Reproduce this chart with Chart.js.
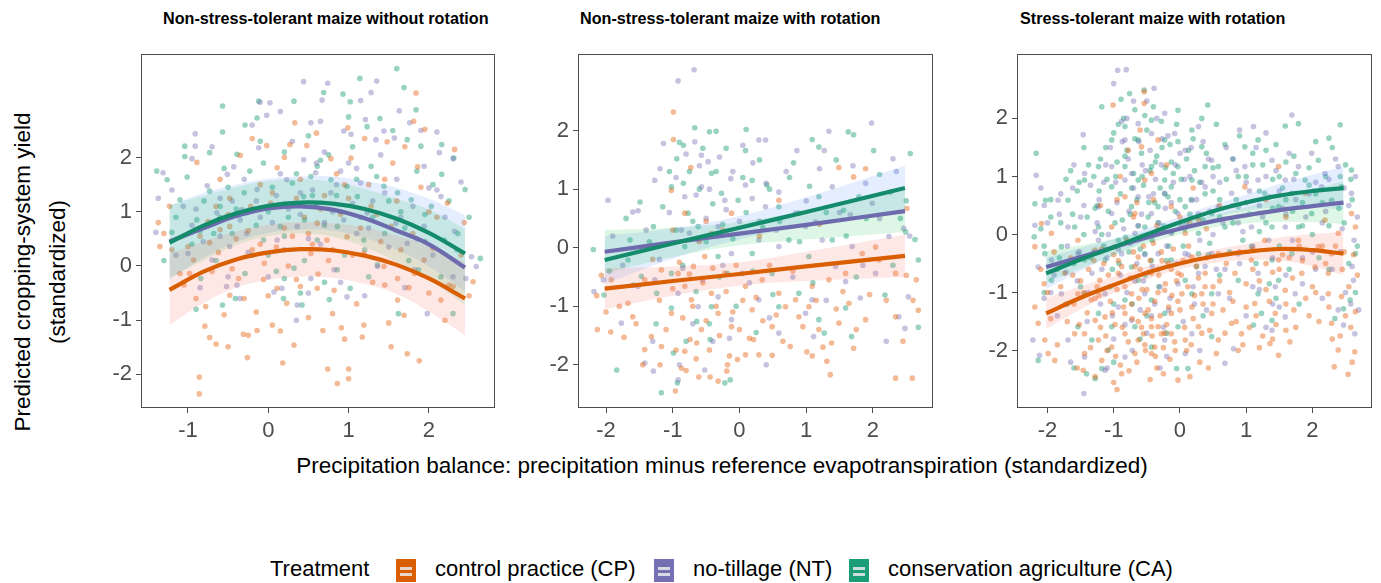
<!DOCTYPE html>
<html>
<head>
<meta charset="utf-8">
<script src="https://cdn.jsdelivr.net/npm/chart.js@4.4.1/dist/chart.umd.min.js"></script>
<style>
  body { margin:0; background:#fff; font-family:"Liberation Sans", Arial, sans-serif; }
  #page { position:relative; width:1381px; height:583px; overflow:hidden; }
  canvas { position:absolute; }
  .ptitle { position:absolute; top:9px; font-size:16.2px; font-weight:bold; color:#000; white-space:nowrap; }
  .ytitle { position:absolute; left:40px; top:272px; transform:translate(-50%,-50%) rotate(-90deg); font-size:22.5px; line-height:35px; text-align:center; white-space:nowrap; color:#000; }
  .xtitle { position:absolute; left:722px; top:453px; transform:translateX(-50%); font-size:22.5px; white-space:nowrap; color:#000; }
  .lg { position:absolute; top:555px; font-size:22px; line-height:28px; color:#000; white-space:nowrap; }
  .key { position:absolute; top:559px; width:20px; height:23px; }
  .key i { position:absolute; left:4px; right:4px; height:3px; background:rgba(235,235,235,0.85); }
</style>
</head>
<body>
<div id="page">
  <div class="ptitle" style="left:163px">Non-stress-tolerant maize without rotation</div>
  <div class="ptitle" style="left:580px">Non-stress-tolerant maize with rotation</div>
  <div class="ptitle" style="left:1020px">Stress-tolerant maize with rotation</div>
  <canvas id="c1" width="408" height="409" style="left:91px;top:39px"></canvas>
  <canvas id="c2" width="409" height="409" style="left:528px;top:39px"></canvas>
  <canvas id="c3" width="409" height="409" style="left:967px;top:39px"></canvas>
  <div class="ytitle">Predicted cropping-system yield<br>(standardized)</div>
  <div class="xtitle">Precipitation balance: precipitation minus reference evapotranspiration (standardized)</div>
  <div class="lg" style="left:270px">Treatment</div>
  <div class="key" style="left:396px;background:#d95f02"><i style="top:8px"></i><i style="top:14px"></i></div>
  <div class="lg" style="left:435px">control practice (CP)</div>
  <div class="key" style="left:654px;background:#7570b3"><i style="top:8px"></i><i style="top:14px"></i></div>
  <div class="lg" style="left:693px">no-tillage (NT)</div>
  <div class="key" style="left:849px;background:#1b9e77"><i style="top:8px"></i><i style="top:14px"></i></div>
  <div class="lg" style="left:888px">conservation agriculture (CA)</div>
</div>
<script>
// treatments: control practice, no-tillage, conservation agriculture
var treatments = ['CP', 'NT', 'CA'];
var lineColors = ['#d95f02', '#6d6aae', '#148c6c'];
var pointColors = ['rgba(230,100,20,0.45)', 'rgba(117,112,179,0.42)', 'rgba(27,158,119,0.45)'];
var bandColors = ['rgba(248,118,109,0.17)', 'rgba(0,186,56,0.13)', 'rgba(97,156,255,0.17)'];

var yTicks = [-2, -1, 0, 1, 2];
var xTicks1 = [-1, 0, 1, 2];
var xTicks23 = [-2, -1, 0, 1, 2];

/******** panel 1 : non-stress-tolerant maize without rotation */
var p1x = [-1.23, -0.8, -0.4, 0, 0.4, 0.8, 1.2, 1.6, 2.0, 2.45];
var p1CP = [-0.44, -0.10, 0.12, 0.25, 0.31, 0.29, 0.19, 0.02, -0.23, -0.60];
var p1NT = [0.45, 0.70, 0.92, 1.06, 1.10, 1.04, 0.88, 0.65, 0.40, -0.03];
var p1CA = [0.43, 0.75, 0.97, 1.11, 1.17, 1.15, 1.05, 0.87, 0.61, 0.23];
var p1CPhi = [0.22, 0.45, 0.64, 0.76, 0.81, 0.79, 0.71, 0.56, 0.36, 0.08];
var p1CPlo = [-1.09, -0.68, -0.40, -0.26, -0.20, -0.22, -0.33, -0.52, -0.84, -1.28];
var p1NThi = [1.12, 1.30, 1.45, 1.57, 1.60, 1.55, 1.42, 1.24, 1.04, 0.68];
var p1NTlo = [-0.22, 0.10, 0.38, 0.55, 0.60, 0.54, 0.35, 0.07, -0.25, -0.72];
var p1CAhi = [1.11, 1.35, 1.50, 1.61, 1.65, 1.65, 1.57, 1.44, 1.24, 0.94];
var p1CAlo = [-0.25, 0.15, 0.44, 0.61, 0.67, 0.65, 0.52, 0.30, -0.01, -0.47];

var p1ptsCP = [[1.84,3.19],[0.33,2.64],[0.99,2.55],[1.81,2.67],[1.95,2.52],[2.32,2.15],[-0.20,2.35],[-0.89,1.91],[-1.37,0.80],[-1.35,0.36],
  [-1.23,1.10],[-0.93,0.11],[-0.78,-0.75],[-0.73,-1.32],[-0.65,-1.44],[-0.5,-1.49],[-0.79,-1.11],[-0.86,-2.05],[-0.86,-2.36],[-0.31,-1.26],
  [-0.25,-1.28],[-0.26,-1.69],[-0.14,-1.19],[0.18,-1.79],[0.32,-1.46],[0.05,-1.09],[0.23,-0.69],[0.4,-0.38],[0.61,-0.41],[0.68,-1.19],
  [0.74,-1.90],[0.86,-2.17],[1.00,-2.08],[1.00,-1.90],[0.91,-1.14],[0.80,-0.88],[1.17,-1.31],[1.19,-1.09],[1.53,-1.49],[1.73,-1.62],
  [1.88,-1.75],[1.69,-0.91],[1.61,-0.63],[1.45,-0.35],[1.61,-0.23],[1.82,-0.14],[1.94,0.11],[2.05,0.33],[2.25,-0.35],[2.55,-0.29],
  [2.44,0.80],[2.23,1.16],[1.86,1.83],[1.48,2.29],[1.03,1.99],[0.78,1.98],[0.48,2.22],[0.27,2.24],[0.11,1.81],[-0.02,2.22],
  [-0.35,2.04],[-0.48,0.73],[-0.6,0.67],[-0.73,0.43],[-0.98,-0.14],[-1.0,0.36],[-1.1,-0.14],[-0.37,-0.23],[-0.48,-0.54],[-0.06,-0.25],
  [0.11,-0.41],[0.53,0.23],[0.73,0.48],[0.98,0.54],[1.19,0.23],[1.44,-0.01],[2.15,-0.63],[2.30,-0.38],[-0.22,1.10],[0.03,1.16],
  [-0.48,1.25],[1.28,1.10],[1.53,0.73],[0.61,0.79],[-0.75,0.82],
  [-1.2,0.3],[-1.05,-0.35],[-0.9,-0.6],[-0.7,-0.1],[-0.62,0.25],[-0.55,-0.9],[-0.45,-0.05],[-0.4,0.5],[-0.3,-0.6],[-0.2,0.3],
  [-0.15,-0.85],[-0.05,0.05],[0.0,-0.55],[0.1,0.35],[0.15,-1.2],[0.25,0.0],[0.3,0.55],[0.35,-0.25],[0.45,0.9],[0.5,-0.95],
  [0.55,0.4],[0.62,-0.15],[0.7,1.3],[0.75,0.1],[0.82,-0.45],[0.9,0.95],[0.95,-1.35],[1.05,0.2],[1.1,-0.7],[1.25,1.5],
  [1.3,-0.3],[1.4,0.45],[1.5,-1.05],[1.55,1.9],[1.65,0.3],[1.75,-0.4],[1.9,1.45],[2.0,-0.5],[2.1,0.9],[2.2,-1.0],
  [2.4,0.2],[2.5,-0.55],[0.2,2.0],[0.6,2.45],[-0.6,1.6],[-0.1,1.5],[0.85,1.7],[1.2,2.35],[1.7,2.2],[-1.3,0.6],
  [-0.85,0.55],[-0.5,0.95],[-0.25,0.65],[0.05,1.35],[0.2,0.7],[0.35,1.25],[0.5,0.6],[0.65,1.05],[0.8,0.3],[1.0,1.25],
  [1.15,0.7],[1.35,0.95],[1.6,1.2],[1.8,0.6],[2.0,1.0],[0.4,1.6],[-0.1,0.4],[0.95,1.5],[1.45,1.6],[-0.65,1.1]];
var p1ptsNT = [[0.44,3.40],[0.74,3.37],[1.35,3.41],[1.28,3.20],[0.67,3.06],[-0.1,3.02],[0.02,3.01],[-0.02,2.78],[-0.91,2.44],[-0.91,2.21],
  [-1.31,1.72],[-1.37,1.25],[-1.4,0.62],[-0.95,1.98],[-0.76,1.48],[-0.51,1.69],[-0.43,1.83],[-0.12,2.18],[0.53,2.64],[0.65,2.67],
  [0.94,2.49],[1.03,2.43],[1.21,2.70],[1.34,2.33],[1.44,2.49],[1.57,2.36],[1.63,2.86],[1.76,2.64],[1.94,1.84],[2.1,2.47],
  [2.13,2.09],[2.30,1.98],[2.0,1.44],[2.15,1.28],[2.32,0.64],[2.53,0.17],[2.59,-0.01],[2.46,-0.23],[1.98,-0.88],[1.82,-0.07],
  [1.36,-0.01],[0.98,-0.57],[0.82,-0.07],[0.53,-0.23],[0.36,-0.72],[0.17,-0.41],[0.07,-0.48],[-0.39,-0.35],[-0.52,-0.38],[-0.7,0.11],
  [-0.81,0.45],[-1.0,0.23],[-1.06,1.10],[-0.64,0.98],[-0.33,1.04],[-0.14,1.41],[0.23,1.59],[0.44,1.96],[0.59,1.72],[0.78,1.35],
  [0.9,1.75],[1.15,1.53],[1.23,0.98],[1.59,0.79],[1.73,0.42],[1.94,0.73],[0.94,0.85],[0.36,0.73],[0.11,0.48],[-0.27,0.60],[-0.48,0.36],
  [-1.15,0.2],[-0.95,0.75],[-0.85,-0.4],[-0.6,0.55],[-0.45,1.2],[-0.35,-0.6],[-0.25,0.25],[-0.1,0.9],[0.0,-0.2],[0.1,1.3],
  [0.2,0.3],[0.3,2.3],[0.4,0.95],[0.5,-0.5],[0.55,1.4],[0.65,0.4],[0.7,2.1],[0.8,1.0],[0.9,-0.3],[1.0,1.9],
  [1.1,0.6],[1.2,-0.55],[1.3,1.2],[1.4,2.05],[1.5,0.35],[1.6,1.6],[1.7,-0.4],[1.8,1.1],[1.9,2.5],[2.05,0.2],
  [2.2,0.9],[2.3,-0.2],[2.4,1.55],[-0.7,2.2],[-0.2,2.6],[0.15,2.85],[1.15,3.05],[-1.2,1.4],[-0.5,-0.2],[0.35,-1.0],
  [-0.9,1.05],[-0.6,1.25],[-0.35,0.85],[-0.15,1.2],[0.05,0.8],[0.25,1.05],[0.4,1.35],[0.5,0.5],[0.7,0.8],[0.85,1.5],
  [1.05,1.15],[1.25,0.7],[1.45,1.35],[1.65,0.9],[1.85,0.5],[0.15,1.7],[0.6,1.9],[-0.3,1.6],[1.1,1.8],[2.1,1.4]];
var p1ptsCA = [[1.60,3.64],[1.14,3.46],[1.69,3.29],[0.69,3.20],[0.32,3.04],[-0.12,3.04],[-0.57,2.95],[-0.57,2.47],[-1.04,2.21],[-1.04,2.02],
  [-0.73,2.09],[-0.29,2.60],[-0.14,2.73],[0.93,3.17],[1.02,3.03],[1.23,2.57],[1.39,2.72],[1.84,2.88],[1.73,2.33],[1.9,2.21],
  [2.16,2.24],[2.31,1.99],[2.16,1.69],[2.45,1.41],[2.64,0.14],[2.30,-0.88],[1.87,-0.07],[1.62,-0.88],[1.36,0.02],[1.02,-0.41],
  [0.86,-0.07],[0.76,-0.62],[0.42,-0.72],[0.19,-0.60],[0.2,-0.23],[0.32,-0.04],[-0.29,-0.14],[-0.41,-0.60],[-0.57,-0.72],[-0.84,-0.23],
  [-1.2,0.62],[-1.39,1.75],[-1.26,1.59],[-1.01,1.64],[-0.73,1.38],[-0.6,1.10],[-0.39,2.06],[-0.23,1.75],[-0.06,1.90],[0.30,1.53],
  [0.44,1.28],[0.53,1.65],[0.61,1.84],[0.78,1.59],[0.98,1.47],[1.11,1.28],[1.28,1.84],[1.44,1.47],[1.61,1.35],[1.78,1.22],
  [2.03,1.10],[2.19,0.48],[2.36,0.60],[0.15,0.73],[-0.06,0.48],[0.61,0.48],[0.86,0.73],[1.19,0.48],[-0.27,0.98],[-0.68,0.60],
  [-0.89,0.85],[-1.1,1.22],
  [-1.15,0.9],[-0.95,0.4],[-0.8,1.2],[-0.65,0.1],[-0.55,1.8],[-0.45,0.6],[-0.3,1.35],[-0.2,0.2],[-0.1,2.3],[0.0,1.0],
  [0.1,-0.1],[0.2,2.1],[0.25,0.9],[0.35,1.7],[0.45,0.1],[0.5,2.4],[0.6,1.1],[0.7,-0.3],[0.75,2.05],[0.85,1.3],
  [0.95,0.2],[1.05,2.2],[1.15,0.9],[1.25,-0.2],[1.35,1.65],[1.45,0.6],[1.55,2.5],[1.65,1.0],[1.75,0.1],[1.85,1.75],
  [1.95,0.45],[2.05,1.5],[2.15,-0.2],[2.25,1.2],[2.35,0.3],[2.5,0.9],[-1.3,0.1],[-0.9,-0.8],[0.4,-0.5],[1.0,2.75],
  [-0.85,0.65],[-0.6,0.9],[-0.4,1.05],[-0.15,0.75],[0.05,1.45],[0.2,0.55],[0.3,1.15],[0.45,0.85],[0.55,1.3],[0.7,0.75],
  [0.9,1.0],[1.1,1.6],[1.3,0.9],[1.5,1.2],[1.7,0.7],[1.95,0.95],[0.0,0.2],[0.65,1.95],[-0.5,1.45],[1.2,0.3]];

/******** panel 2 : non-stress-tolerant maize with rotation */
var p2x = [-2.02, -1, 0, 1, 2.48];
var p2CP = [-0.70, -0.57, -0.45, -0.32, -0.14];
var p2NT = [-0.07, 0.09, 0.24, 0.39, 0.625];
var p2CA = [-0.21, 0.07, 0.34, 0.61, 1.02];
var p2CPhi = [-0.35, -0.32, -0.25, -0.07, 0.22];
var p2CPlo = [-1.05, -0.82, -0.65, -0.57, -0.50];
var p2NThi = [0.30, 0.34, 0.44, 0.64, 0.98];
var p2NTlo = [-0.44, -0.16, 0.04, 0.14, 0.27];
var p2CAhi = [0.20, 0.33, 0.54, 0.86, 1.40];
var p2CAlo = [-0.62, -0.19, 0.14, 0.36, 0.65];

var p2ptsCP = [[-0.99,2.32],[-0.99,1.85],[-0.73,1.37],[-1.02,0.98],[-2.14,-0.82],[-2.13,-1.40],[-1.93,-1.44],[-1.73,-1.53],[-1.6,-1.18],[-1.42,-1.74],
  [-1.32,-1.52],[-1.17,-1.69],[-1.19,-2.0],[-0.96,-2.45],[-0.87,-2.06],[-0.82,-1.77],[-0.74,-1.57],[-0.61,-2.21],[-0.64,-1.63],[-0.57,-1.40],
  [-0.44,-2.21],[-0.32,-2.28],[-0.18,-2.0],[-0.19,-2.11],[-0.03,-1.91],[0.09,-1.83],[0.21,-1.57],[0.29,-1.83],[0.49,-1.84],[0.76,-1.69],
  [0.89,-1.18],[1.04,-1.01],[1.01,-1.78],[1.09,-1.85],[1.31,-1.94],[1.36,-2.17],[1.38,-1.63],[1.49,-1.29],[1.64,-0.95],[1.71,-1.72],
  [2.34,-2.23],[2.59,-2.23],[2.68,-1.07],[2.65,-0.55],[2.5,-0.47],[2.04,0.01],[2.51,0.67],[1.89,1.35],[1.49,1.37],[1.71,1.21],
  [0.59,0.81],[-0.52,-0.15],[-0.69,-0.32],[-0.92,-0.44],[-1.17,-0.38],[-1.42,-0.55],[-1.67,-0.95],[-1.92,-0.55],[-2.07,-0.47],[-0.82,-0.66],
  [-0.42,-0.78],[-0.22,-0.44],[0.09,-0.66],[0.34,-0.55],[0.59,-0.78],[0.84,-0.89],[1.09,-0.66],[1.34,-0.55],[1.59,-0.44],[1.84,-0.10],
  [2.09,-0.21],[2.34,-0.44],[-0.32,-1.12],[-0.12,-1.35],[-1.02,-1.12],[-0.72,-0.89],[0.19,-1.06],[0.49,-1.35],[0.69,-1.01],[1.19,-1.40],
  [1.89,-1.23],[2.34,-1.18],[-0.82,0.59],[-0.42,0.24],[-0.12,0.59],
  [-1.3,-0.2],[-1.2,-0.9],[-1.1,-1.4],[-1.0,-0.7],[-0.95,-1.75],[-0.9,-0.25],[-0.85,-1.2],[-0.8,-2.1],[-0.75,-0.45],[-0.7,-1.0],
  [-0.65,-1.9],[-0.6,0.1],[-0.55,-0.6],[-0.5,-1.25],[-0.45,-1.75],[-0.4,-0.35],[-0.35,-1.0],[-0.3,-1.5],[-0.25,0.3],[-0.2,-0.75],
  [-0.15,-1.85],[-0.1,-1.1],[-0.05,-0.3],[0.0,-1.4],[0.05,-0.9],[0.15,-1.55],[0.25,-0.85],[0.35,-1.25],[0.45,-0.3],[0.55,-1.15],
  [0.65,-1.6],[0.8,-0.4],[0.95,-1.35],[1.15,-0.9],[1.25,-1.7],[1.45,-1.05],[1.55,-0.75],[1.75,-1.4],[1.95,-0.8],[2.2,-0.9],
  [2.45,-1.6],[-1.55,-1.3],[-1.8,-1.0],[-2.0,-1.1],[-1.45,-2.0],[-1.0,0.3],[-0.5,0.45],[0.3,0.2],[1.2,0.4],[2.6,-0.9]];
var p2ptsNT = [[-0.68,3.04],[-0.92,2.85],[1.98,2.13],[0.29,1.84],[0.39,1.84],[1.34,1.99],[1.27,1.66],[0.86,1.66],[2.30,1.52],[1.89,1.10],
  [-1.97,0.81],[-1.6,0.61],[-1.52,0.63],[-1.27,1.15],[-1.19,1.35],[-1.14,1.78],[-0.67,1.81],[-0.57,1.58],[-0.47,1.47],[-0.13,1.18],
  [0.09,1.07],[0.19,0.84],[0.39,0.70],[0.59,0.95],[0.84,0.59],[1.14,0.44],[1.39,1.04],[1.66,0.56],[1.99,0.76],[2.24,0.19],
  [2.46,0.33],[2.53,-0.84],[2.48,-1.38],[2.39,-1.18],[1.81,-0.86],[1.59,-0.58],[1.44,-0.32],[1.09,-0.89],[0.99,-1.12],[1.11,-1.52],
  [0.59,-1.46],[0.29,-0.89],[0.04,-0.44],[-0.12,-1.23],[-0.32,-0.84],[-0.62,-1.01],[-0.92,-0.78],[-1.27,-0.55],[-1.52,-0.66],[-1.77,-1.29],
  [-1.42,-1.97],[-1.29,-2.11],[-0.92,-2.26],[-0.52,-2.09],[-2.18,-0.75],[-2.04,-0.55],[-0.87,0.30],[-0.62,0.13],[-0.32,0.36],[-0.12,-0.10],
  [0.29,0.13],[0.59,0.02],[0.99,0.36],[1.24,0.13],[1.69,0.02],[2.04,-0.44],[-0.57,1.04],[-0.22,0.81],[-0.82,0.87],
  [-1.4,0.3],[-1.2,-0.2],[-1.05,0.6],[-0.95,1.2],[-0.85,-0.35],[-0.8,1.6],[-0.75,0.25],[-0.7,-1.3],[-0.65,0.9],[-0.6,1.4],
  [-0.55,-0.55],[-0.5,0.5],[-0.45,1.0],[-0.4,-1.6],[-0.35,0.2],[-0.3,1.55],[-0.25,-0.3],[-0.2,0.65],[-0.15,-1.55],[-0.1,1.3],
  [0.0,0.45],[0.05,1.75],[0.15,-0.6],[0.2,1.45],[0.3,0.45],[0.4,1.1],[0.45,-1.2],[0.55,0.3],[0.7,1.3],[0.8,-0.5],
  [1.0,0.8],[1.2,1.35],[1.3,-0.9],[1.5,0.6],[1.7,1.4],[1.85,-0.3],[2.1,0.5],[2.35,1.3],[2.55,0.2],[-1.75,-0.3],
  [-1.9,0.2],[-1.3,-1.6],[-0.9,-2.0],[0.4,-2.0],[2.2,-1.6]];
var p2ptsCA = [[-0.67,2.05],[-0.45,1.98],[-0.35,1.99],[0.10,2.02],[1.09,1.85],[1.63,1.98],[1.71,1.93],[2.01,1.66],[2.56,1.61],[1.19,1.72],
  [0.81,1.45],[0.09,1.66],[-0.84,1.75],[-0.94,1.52],[-1.02,1.04],[-0.84,1.10],[-0.42,1.27],[-0.27,0.93],[-0.02,0.81],[0.19,1.15],
  [0.41,1.07],[0.59,0.70],[0.89,0.59],[1.19,0.87],[1.56,0.64],[1.79,0.87],[2.26,0.95],[2.41,0.50],[-1.49,0.78],[-1.29,0.36],
  [-1.64,0.13],[-2.19,-0.03],[-2.03,-0.81],[-1.67,-0.21],[-1.47,-0.49],[-1.24,-0.78],[-1.02,-1.03],[-0.99,-1.80],[-1.17,-2.48],[-0.93,-2.31],
  [-1.84,-2.09],[-1.59,-0.64],[-0.64,-1.26],[-0.44,-1.57],[-0.22,-2.31],[-0.14,-2.26],[-0.42,-1.01],[-0.18,-0.44],[0.19,-0.10],[0.49,-0.44],
  [0.59,-1.01],[0.89,-0.78],[1.19,-1.23],[1.27,-1.46],[1.59,-1.03],[1.68,-1.52],[2.18,-0.81],[2.68,-1.36],[2.68,-0.21],[2.63,0.14],
  [2.49,0.27],[1.39,0.13],[1.04,-0.15],[0.74,0.13],[-0.62,0.36],[-0.82,0.02],[-1.02,-0.44],[-0.32,-0.15],[-0.77,0.59],
  [-1.35,0.1],[-1.15,0.7],[-1.05,1.3],[-0.95,0.3],[-0.9,1.8],[-0.85,-0.3],[-0.75,1.3],[-0.7,0.45],[-0.65,-0.75],[-0.6,1.0],
  [-0.55,1.7],[-0.5,0.1],[-0.45,-1.3],[-0.4,0.75],[-0.35,1.3],[-0.3,-0.5],[-0.25,0.4],[-0.2,1.7],[-0.1,0.15],[-0.05,-1.0],
  [0.05,1.2],[0.1,0.6],[0.2,-0.4],[0.3,1.5],[0.35,0.35],[0.45,1.0],[0.5,-0.8],[0.6,0.45],[0.75,1.2],[0.9,0.1],
  [1.05,1.05],[1.1,-0.6],[1.3,0.6],[1.45,1.5],[1.6,0.2],[1.75,-0.5],[1.9,0.5],[2.1,1.25],[2.3,-0.3],[2.5,0.8],
  [-1.7,0.5],[-1.95,-0.4],[-1.25,-1.3],[-0.8,-1.6],[0.25,-1.45]];

/******** panel 3 : stress-tolerant maize with rotation */
var p3x = [-2.02, -1.5, -1, -0.5, 0, 0.5, 1, 1.5, 2, 2.47];
var p3CP = [-1.36, -1.09, -0.87, -0.66, -0.50, -0.38, -0.30, -0.25, -0.27, -0.33];
var p3NT = [-0.56, -0.39, -0.22, -0.05, 0.10, 0.23, 0.33, 0.42, 0.49, 0.55];
var p3CA = [-0.67, -0.43, -0.22, 0.00, 0.21, 0.40, 0.55, 0.67, 0.75, 0.80];
var p3CPhi = [-1.09, -0.89, -0.73, -0.55, -0.40, -0.27, -0.16, -0.05, 0.01, 0.04];
var p3CPlo = [-1.63, -1.29, -1.01, -0.77, -0.60, -0.49, -0.44, -0.45, -0.55, -0.70];
var p3NThi = [-0.29, -0.19, -0.08, 0.06, 0.20, 0.34, 0.47, 0.62, 0.77, 0.92];
var p3NTlo = [-0.83, -0.59, -0.36, -0.16, 0.00, 0.12, 0.19, 0.22, 0.21, 0.18];
var p3CAhi = [-0.40, -0.23, -0.08, 0.11, 0.31, 0.51, 0.69, 0.87, 1.03, 1.17];
var p3CAlo = [-0.94, -0.63, -0.36, -0.11, 0.11, 0.29, 0.41, 0.47, 0.47, 0.43];

var p3ptsCP = [[-1.01,2.23],[-0.54,2.46],[-0.54,2.26],[2.33,-2.28],[2.54,-2.41],[2.64,-2.02],[2.39,-1.99],[2.65,-1.33],[2.65,0.13],[2.59,0.36],
  [-2.19,-1.25],[-2.14,-1.53],[-1.89,-2.17],[-1.99,-2.05],[-2.04,-1.82],[-1.46,-2.34],[-1.28,-2.45],[-0.95,-2.67],[-0.88,-2.40],[-0.03,-2.51],
  [-0.25,-2.40],[-0.43,-2.05],[-0.63,-1.82],[-0.55,-1.71],[-0.33,-1.59],[-0.13,-1.71],[0.08,-1.82],[0.28,-1.59],[0.18,-1.25],[0.58,-1.82],
  [0.78,-1.53],[0.93,-1.71],[1.13,-1.19],[1.36,-1.88],[1.49,-2.08],[1.66,-1.85],[1.44,-1.36],[1.59,-0.96],[1.84,-0.67],[2.04,-0.56],
  [2.29,-0.33],[2.24,-0.67],[2.24,-1.02],[2.44,-1.07],[2.29,-1.53],[-1.74,-0.67],[-1.54,-1.02],[-1.34,-1.13],[-1.21,-0.79],[-1.13,-1.42],
  [-1.44,-1.71],[-1.23,-1.82],[-0.83,-1.36],[-0.73,-1.02],[-0.93,-0.67],[-0.63,-0.39],[-0.43,-0.67],[-0.23,-0.96],[-0.03,-0.67],[0.18,-0.39],
  [0.38,-0.67],[0.58,-0.33],[0.83,-0.67],[1.08,-0.44],[1.28,-0.10],[1.49,-0.44],[1.79,-0.10],[2.09,-0.21],[2.39,0.02],[-1.03,0.13],
  [-0.83,0.65],[-0.68,0.36],[-0.53,0.94],[-0.33,0.07],[-0.13,0.48],[0.08,0.02],[0.28,0.25],[-0.78,1.45],[-0.58,1.51],[-0.43,1.05],
  [-0.33,1.63],[1.49,1.17],[0.98,0.82],[1.89,0.71],[2.19,0.25],[-2.09,0.19],[-1.94,0.02],[-2.19,-0.21],[-1.54,-0.10],[-1.28,-0.27],
  [-0.98,-0.21],[-0.53,-1.36],[-0.43,-1.59],[-0.28,-1.71],[-0.38,-1.94],[-0.68,-2.05],[-0.83,-1.71],[-1.03,-1.94],[-1.18,-2.17],[-1.44,-2.05],
  [-1.59,-1.71],[-1.28,-1.48],[-0.13,-1.36],[0.03,-1.02],[0.33,-1.02],[0.48,-1.36],
  [-1.25,-0.9],[-1.2,-1.6],[-1.15,-0.5],[-1.1,-2.0],[-1.05,-1.15],[-1.0,-0.35],[-0.98,-1.55],[-0.95,-0.95],[-0.9,-2.25],[-0.88,-0.55],
  [-0.85,-1.25],[-0.8,-0.1],[-0.78,-1.85],[-0.75,-0.75],[-0.72,-1.45],[-0.7,-0.3],[-0.65,-2.2],[-0.62,-1.1],[-0.6,-0.6],[-0.58,-1.6],
  [-0.55,-0.2],[-0.52,-2.0],[-0.5,-0.95],[-0.48,-1.3],[-0.45,-0.45],[-0.42,-1.75],[-0.4,-0.15],[-0.38,-1.15],[-0.35,-2.3],[-0.32,-0.7],
  [-0.3,-1.4],[-0.28,-0.3],[-0.25,-1.95],[-0.22,-0.85],[-0.2,-1.55],[-0.18,-0.5],[-0.15,-2.15],[-0.12,-1.05],[-0.1,-0.25],[-0.08,-1.85],
  [-0.05,-0.8],[0.0,-1.3],[0.05,-0.45],[0.1,-2.0],[0.12,-0.9],[0.2,-1.45],[0.25,-0.55],[0.3,-2.2],[0.35,-1.2],[0.4,-0.4],
  [0.45,-1.65],[0.5,-0.9],[0.55,-2.05],[0.65,-1.3],[0.7,-0.5],[0.75,-1.0],[0.85,-1.5],[0.9,-0.3],[0.95,-1.9],[1.0,-0.85],
  [1.05,-1.6],[1.1,-0.25],[1.15,-1.4],[1.2,-0.8],[1.25,-1.75],[1.3,-0.5],[1.35,-1.15],[1.4,-0.65],[1.45,-1.55],[1.55,-0.35],
  [1.6,-1.2],[1.7,-0.75],[1.75,-1.6],[1.8,-0.2],[1.9,-1.1],[2.0,-0.9],[2.1,-1.5],[2.2,-0.5],[2.3,-1.8],[2.35,-0.2],
  [2.45,-0.6],[2.5,-1.4],[2.55,-0.9],[2.6,-2.2],[2.62,-0.35],[-1.3,-0.45],[-1.35,-1.95],[-1.4,-1.35],[-1.5,-0.8],[-1.55,-2.3],
  [-1.6,-1.2],[-1.65,-0.4],[-1.7,-1.5],[-1.8,-0.9],[-1.85,-1.9],[-1.9,-0.3],[-2.0,-1.0],[-2.1,-0.6],[-1.2,0.5],[-0.9,1.0],
  [-0.7,0.3],[-0.6,1.8],[-0.4,0.6],[-0.2,1.2],[0.0,0.3],[0.2,0.8],[0.4,0.1],[0.6,0.5],[1.3,0.6],[1.6,0.3],
  [-1.0,-2.55],[-0.45,-2.5],[0.15,-2.45],
  [-1.22,-1.05],[-1.18,-0.25],[-1.12,-1.75],[-1.08,-0.7],[-1.02,-1.35],[-0.97,-2.1],[-0.93,-0.45],[-0.87,-1.6],[-0.83,-0.9],[-0.77,-2.35],
  [-0.73,-1.2],[-0.68,-0.55],[-0.63,-1.5],[-0.57,-0.95],[-0.53,-1.9],[-0.47,-0.65],[-0.43,-1.45],[-0.37,-2.1],[-0.33,-1.0],[-0.27,-0.45],
  [-0.23,-1.7],[-0.17,-1.25],[-0.13,-0.6],[-0.07,-2.0],[-0.03,-1.15],[0.02,-0.7],[0.07,-1.6],[0.13,-0.2],[0.17,-1.9],[0.22,-1.05],
  [0.28,-0.75],[0.33,-1.7],[0.38,-0.9],[0.43,-2.3],[0.5,-1.2],[0.6,-0.8],[0.68,-1.7],[0.8,-1.15],[0.88,-2.0],[1.0,-1.25],
  [1.1,-0.6],[1.2,-1.95],[1.3,-0.95],[1.4,-1.8],[1.5,-0.6],[1.6,-1.65],[1.65,-0.4],[1.72,-1.3],[1.85,-0.45],[1.95,-1.4],
  [2.05,-1.0],[2.15,-0.2],[2.25,-1.25],[2.42,-1.75],[2.48,-0.3],[2.58,-1.6],[2.68,-0.7],[-1.28,-1.1],[-1.38,-0.6],[-1.45,-1.0],
  [-1.52,-1.55],[-1.62,-0.7],[-1.72,-1.2],[-1.82,-0.55],[-1.95,-1.45],[-2.05,-0.85],[-0.65,0.55],[-0.35,0.15],[-0.95,0.6],[0.15,0.2]];
var p3ptsNT = [[-0.94,2.83],[-0.81,2.84],[-0.39,2.52],[-1.46,1.72],[-2.17,1.02],[-2.19,0.16],[-2.14,-0.56],[-2.22,-1.82],[-2.12,-2.08],[-1.45,-2.74],
  [1.69,2.06],[1.11,1.86],[2.14,0.82],[2.59,0.71],[2.63,-0.10],[2.62,-0.79],[2.64,-1.71],[2.47,-1.56],[2.39,-1.30],[0.68,-2.22],
  [0.81,-1.97],[1.39,-1.65],[1.59,-1.42],[1.74,-1.02],[-1.44,1.05],[-1.23,0.48],[-1.03,1.17],[-0.83,1.63],[-0.63,1.91],[-0.43,1.74],
  [-0.23,2.09],[-0.08,1.74],[0.08,1.45],[0.28,1.86],[0.48,1.28],[-0.83,0.94],[-0.63,0.65],[-0.43,0.36],[-0.23,0.71],[-0.03,0.36],
  [0.18,0.59],[0.38,0.82],[0.58,0.48],[0.78,0.71],[0.98,1.17],[1.18,0.94],[1.39,1.28],[1.59,0.94],[1.79,1.17],[1.99,1.40],
  [2.19,1.05],[2.39,1.17],[1.08,0.13],[1.34,-0.10],[1.59,0.13],[0.88,-0.33],[1.18,-0.67],[1.44,-0.90],[-1.69,0.13],[-1.54,-0.33],
  [-1.33,-0.67],[-1.13,-1.02],[-0.93,-1.25],[-0.73,-1.48],[-0.53,-1.02],[-0.33,-0.33],[-0.13,0.02],[0.08,-0.33],[0.28,-0.67],[0.48,-0.33],
  [0.58,-1.02],[-1.69,-1.82],[-1.44,-2.11],[-1.13,-2.34],[-0.83,-2.11],[0.08,-2.05],[0.18,-1.71],[-0.23,-1.82],[-1.79,-1.02],[-1.94,-0.44],
  [-1.84,0.59],[-1.23,-0.10],[-1.03,0.36],[-0.88,-0.33],[-0.68,0.02],
  [-1.25,0.2],[-1.2,-1.2],[-1.15,0.9],[-1.1,-0.4],[-1.05,1.5],[-1.0,-1.8],[-0.95,0.55],[-0.9,-0.7],[-0.88,1.95],[-0.85,0.1],
  [-0.8,-1.0],[-0.78,1.3],[-0.75,-0.15],[-0.72,-2.0],[-0.7,0.8],[-0.65,-0.5],[-0.62,1.6],[-0.6,-1.3],[-0.58,0.35],[-0.55,-0.8],
  [-0.52,1.1],[-0.5,-1.7],[-0.48,0.0],[-0.45,1.45],[-0.42,-0.55],[-0.4,0.7],[-0.38,-1.2],[-0.35,2.0],[-0.32,0.2],[-0.3,-0.9],
  [-0.28,1.2],[-0.25,-1.6],[-0.22,0.45],[-0.2,-0.2],[-0.18,1.7],[-0.15,-1.1],[-0.1,0.9],[-0.05,-0.5],[0.0,1.4],[0.05,-1.5],
  [0.1,0.2],[0.15,1.0],[0.2,-0.9],[0.25,0.6],[0.3,-0.1],[0.35,1.6],[0.4,-1.3],[0.45,0.4],[0.5,1.0],[0.55,-0.6],
  [0.65,0.2],[0.7,1.5],[0.75,-1.1],[0.8,0.5],[0.85,1.1],[0.9,-0.5],[0.95,0.05],[1.0,-1.4],[1.05,0.75],[1.1,-0.2],
  [1.15,1.5],[1.2,-0.95],[1.25,0.3],[1.3,-1.6],[1.35,0.65],[1.4,-0.4],[1.45,1.1],[1.5,-1.25],[1.55,0.45],[1.6,-0.7],
  [1.65,1.4],[1.7,-0.1],[1.75,0.6],[1.85,-0.85],[1.9,0.3],[2.0,-0.3],[2.05,0.9],[2.15,-1.1],[2.2,0.4],[2.3,-0.6],
  [2.35,1.3],[2.45,0.1],[2.5,-1.0],[2.55,0.5],[2.6,-0.55],[2.65,1.0],[2.7,-1.3],[-1.3,-0.3],[-1.35,0.85],[-1.4,-1.5],
  [-1.5,0.3],[-1.55,-0.8],[-1.6,1.2],[-1.65,-2.2],[-1.7,-0.2],[-1.8,0.7],[-1.85,-1.4],[-1.9,-0.7],[-2.0,0.2],[-2.05,-1.1],
  [-2.1,0.8],[-1.0,2.6],[-0.7,2.3],[-0.3,-2.3],[0.3,-2.0],[0.9,1.8],[1.3,1.75],
  [-1.22,0.6],[-1.18,-0.6],[-1.12,1.2],[-1.08,0.0],[-1.02,-1.4],[-0.97,0.9],[-0.93,-0.25],[-0.87,1.6],[-0.83,-1.55],[-0.77,0.4],
  [-0.73,1.05],[-0.68,-0.8],[-0.63,0.15],[-0.57,1.2],[-0.53,-0.35],[-0.47,0.65],[-0.43,-1.4],[-0.37,0.95],[-0.33,-0.6],[-0.27,1.65],
  [-0.23,0.05],[-0.17,-1.3],[-0.13,0.55],[-0.07,1.2],[-0.03,-0.85],[0.02,0.15],[0.07,0.95],[0.13,-0.35],[0.17,1.5],[0.22,-1.2],
  [0.28,0.35],[0.33,0.9],[0.38,-0.55],[0.43,1.3],[0.5,0.0],[0.6,0.9],[0.68,-0.6],[0.8,1.3],[0.88,0.2],[1.0,0.9],
  [1.1,-0.9],[1.2,0.5],[1.3,1.0],[1.4,-1.2],[1.5,0.75],[1.6,0.35],[1.72,0.95],[1.85,-0.4],[1.95,0.7],[2.05,-0.6],
  [2.15,0.2],[2.25,0.95],[2.42,-0.3],[2.48,0.8],[2.58,-1.2],[2.68,0.3],[-1.28,0.05],[-1.38,-1.0],[-1.45,0.5],[-1.52,-0.3],
  [-1.62,0.8],[-1.72,-0.65],[-1.82,0.35],[-1.95,-1.0],[-2.05,0.5],[-0.8,2.0],[-0.5,2.3],[-0.2,-2.1],[-1.1,-2.3]];
var p3ptsCA = [[-0.54,2.49],[-0.89,2.33],[-1.18,2.20],[-0.76,2.43],[0.42,2.23],[1.79,1.91],[1.59,1.87],[2.42,1.89],[2.25,1.66],[-2.17,1.40],
  [-2.03,0.59],[-2.19,0.53],[-2.2,-0.04],[-2.14,-2.17],[-1.28,-2.48],[-1.41,-2.40],[-1.18,-2.31],[-0.05,-2.31],[0.12,-2.31],[2.34,-1.45],
  [2.47,-1.28],[2.57,-1.13],[2.65,-0.33],[2.59,1.11],[1.39,-1.48],[1.23,-1.36],[1.11,-1.56],[0.48,-1.76],[-1.44,0.94],[-1.23,1.17],
  [-1.03,1.63],[-0.83,1.86],[-0.63,1.63],[-0.43,1.97],[-0.23,1.63],[-0.03,2.14],[0.18,1.80],[0.33,1.51],[0.58,1.17],[-1.03,0.82],
  [-0.83,1.17],[-0.63,0.94],[-0.43,1.17],[-0.23,0.94],[-0.03,1.17],[0.18,0.94],[0.38,1.17],[-0.73,0.48],[-0.53,0.13],[-0.33,0.48],
  [-0.13,0.82],[0.08,0.48],[0.28,0.02],[0.48,0.36],[0.68,0.13],[0.88,0.48],[0.98,1.51],[1.18,1.63],[1.28,0.71],[1.49,0.48],
  [1.69,0.71],[1.89,0.94],[2.09,1.28],[2.29,0.59],[2.44,0.82],[1.99,0.36],[1.79,0.13],[1.39,0.13],[1.08,-0.21],[1.39,-0.44],
  [1.69,-0.33],[0.88,-0.79],[1.18,-1.02],[1.49,-0.79],[-1.69,0.59],[-1.59,0.13],[-1.79,-0.21],[-1.44,-0.44],[-1.23,0.13],[-1.13,-0.44],
  [-0.93,-0.10],[-0.73,-0.56],[-0.53,-0.33],[-0.13,-0.44],[0.08,-0.79],[0.28,-0.33],[0.48,-1.02],[0.18,-1.02],[-1.44,-1.02],[-1.23,-1.36],
  [-1.03,-1.59],[-0.83,-1.13],[-0.63,-0.79],[-0.43,-1.13],[-0.23,-1.36],[-0.03,-1.59],[-1.54,-1.59],[-1.33,-1.82],[-1.08,-1.99],[-0.68,-1.59],
  [-0.43,-1.94],[-1.94,-0.79],[-2.04,-0.33],
  [-1.25,0.5],[-1.2,1.3],[-1.15,-0.2],[-1.1,0.95],[-1.05,-0.9],[-1.0,1.75],[-0.98,0.2],[-0.95,1.25],[-0.92,-0.5],[-0.9,0.7],
  [-0.85,2.0],[-0.82,-0.05],[-0.8,1.45],[-0.75,0.35],[-0.72,-1.2],[-0.7,1.05],[-0.68,2.15],[-0.65,0.6],[-0.6,-0.25],[-0.58,1.4],
  [-0.55,0.85],[-0.52,-0.7],[-0.5,1.8],[-0.48,0.3],[-0.45,1.1],[-0.42,-0.1],[-0.4,2.2],[-0.38,0.55],[-0.35,1.35],[-0.32,-0.9],
  [-0.3,0.8],[-0.28,1.95],[-0.25,0.15],[-0.22,1.15],[-0.2,-0.45],[-0.18,0.65],[-0.15,1.55],[-0.12,0.05],[-0.1,1.05],[-0.05,1.9],
  [0.0,0.6],[0.05,-0.2],[0.1,1.3],[0.15,0.35],[0.2,1.65],[0.25,-0.55],[0.3,0.9],[0.35,0.25],[0.4,1.4],[0.45,-0.15],
  [0.5,0.75],[0.55,1.9],[0.6,0.3],[0.7,0.95],[0.75,-0.3],[0.8,1.3],[0.85,0.6],[0.9,1.7],[0.95,-0.1],[1.0,1.0],
  [1.05,0.35],[1.1,1.4],[1.15,-0.5],[1.2,0.75],[1.25,1.2],[1.3,0.2],[1.35,-0.85],[1.4,0.95],[1.45,1.55],[1.5,-0.2],
  [1.55,0.8],[1.6,1.25],[1.65,-0.6],[1.7,0.4],[1.75,1.05],[1.8,-1.2],[1.85,0.55],[1.95,1.15],[2.0,0.0],[2.05,0.7],
  [2.1,-0.4],[2.2,1.0],[2.25,0.15],[2.3,1.5],[2.4,0.45],[2.5,1.2],[2.55,-0.5],[2.6,0.6],[2.65,-1.0],[-1.3,1.0],
  [-1.35,-0.4],[-1.4,0.3],[-1.45,1.5],[-1.5,-0.9],[-1.55,0.75],[-1.6,-0.5],[-1.65,1.1],[-1.7,-1.2],[-1.8,0.2],[-1.85,-0.6],
  [-1.95,0.6],[-2.05,-1.0],[-2.1,0.1],[-1.0,-2.2],[-0.6,-1.8],[-0.2,-1.7],[0.35,-1.4],[-1.6,-2.3],
  [-1.22,0.75],[-1.18,0.0],[-1.12,1.5],[-1.08,0.4],[-1.02,-0.6],[-0.97,1.0],[-0.93,1.9],[-0.87,0.25],[-0.83,1.35],[-0.77,-0.3],
  [-0.73,0.8],[-0.68,1.65],[-0.63,0.15],[-0.57,1.0],[-0.53,2.05],[-0.47,0.55],[-0.43,-0.45],[-0.37,1.25],[-0.33,0.2],[-0.27,1.5],
  [-0.23,0.7],[-0.17,-0.2],[-0.13,1.25],[-0.07,0.4],[-0.03,1.6],[0.02,0.95],[0.07,0.1],[0.13,1.45],[0.17,0.6],[0.22,1.1],
  [0.28,0.3],[0.33,2.0],[0.38,0.7],[0.43,-0.35],[0.5,1.15],[0.6,0.6],[0.68,1.55],[0.8,0.2],[0.88,1.0],[1.0,0.55],
  [1.1,1.2],[1.2,0.05],[1.3,1.45],[1.4,0.45],[1.5,1.0],[1.6,0.6],[1.72,1.35],[1.85,0.15],[1.95,0.85],[2.05,1.6],
  [2.15,0.55],[2.25,-0.6],[2.42,1.0],[2.48,0.2],[2.58,0.95],[2.68,-0.2],[-1.28,0.45],[-1.38,1.2],[-1.45,0.0],[-1.52,0.9],
  [-1.62,0.35],[-1.72,0.95],[-1.82,-0.4],[-1.95,0.3],[-2.05,-0.2],[-1.0,-1.2],[-0.5,-1.4],[0.6,-0.7],[1.45,-1.1]];

/************************ chart building */

var xyOf = (xs, ys) => xs.map((x, k) => ({x: x, y: ys[k]}));
var tickFont = {family: 'Liberation Sans, Arial, sans-serif', size: 22, lineHeight: 1.0};

var panelBorder = {
  id: 'panelBorder',
  afterDraw: (chart) => {
    var a = chart.chartArea, ctx = chart.ctx;
    ctx.save();
    ctx.strokeStyle = '#4d4d4d';
    ctx.lineWidth = 1;
    ctx.strokeRect(Math.round(a.left) + 0.5, Math.round(a.top) + 0.5,
      Math.round(a.right - a.left) - 1, Math.round(a.bottom - a.top) - 1);
    ctx.restore();
  }
};

makePanel = (id, xMin, xMax, yMin, yMax, xTicks, xs, lines, his, los, pts) => {
  var datasets = [];
  // points
  pts.forEach((p, i) => {
    datasets.push({
      type: 'scatter', label: treatments[i] + ' obs',
      data: p.map(v => ({x: v[0], y: v[1]})),
      pointRadius: 2.8, pointHoverRadius: 2.8, pointBorderWidth: 0,
      pointBackgroundColor: pointColors[i], backgroundColor: pointColors[i],
      order: 3
    });
  });
  // confidence bands (upper, then lower filled to upper)
  his.forEach((hi, i) => {
    datasets.push({
      type: 'line', label: treatments[i] + ' hi', data: xyOf(xs, hi),
      borderWidth: 0, pointRadius: 0, fill: false, tension: 0.4, order: 2
    });
    datasets.push({
      type: 'line', label: treatments[i] + ' lo', data: xyOf(xs, los[i]),
      borderWidth: 0, pointRadius: 0, fill: '-1', backgroundColor: bandColors[i], tension: 0.4, order: 2
    });
  });
  // fitted lines
  lines.forEach((ys, i) => {
    datasets.push({
      type: 'line', label: treatments[i], data: xyOf(xs, ys),
      borderColor: lineColors[i], borderWidth: 4.2, pointRadius: 0, fill: false,
      tension: 0.4, order: 1 - i * 0.1
    });
  });

  new Chart(document.getElementById(id), {
    type: 'scatter',
    data: {datasets: datasets},
    plugins: [panelBorder],
    options: {
      responsive: false, animation: false, devicePixelRatio: 1,
      layout: {padding: {top: 4, right: 4, left: 0, bottom: 0}},
      plugins: {legend: {display: false}, tooltip: {enabled: false}},
      scales: {
        x: {
          type: 'linear', min: xMin, max: xMax,
          afterBuildTicks: (s) => { s.ticks = xTicks.map(v => ({value: v})); },
          afterFit: (s) => { s.height = 40; },
          ticks: {font: tickFont, color: '#4d4d4d', padding: 7, maxRotation: 0, autoSkip: false},
          grid: {drawOnChartArea: false, drawTicks: true, tickLength: 5, color: '#4d4d4d'},
          border: {display: false}
        },
        y: {
          type: 'linear', min: yMin, max: yMax,
          afterBuildTicks: (s) => { s.ticks = yTicks.map(v => ({value: v})); },
          afterFit: (s) => { s.width = 50; },
          ticks: {font: tickFont, color: '#4d4d4d', padding: 4, autoSkip: false},
          grid: {drawOnChartArea: false, drawTicks: true, tickLength: 5, color: '#4d4d4d'},
          border: {display: false}
        }
      }
    }
  });
};

makePanel('c1', -1.585, 2.823, -2.62, 3.91, xTicks1, p1x,
  [p1CP, p1NT, p1CA], [p1CPhi, p1NThi, p1CAhi], [p1CPlo, p1NTlo, p1CAlo], [p1ptsCP, p1ptsNT, p1ptsCA]);
makePanel('c2', -2.42, 2.90, -2.74, 3.31, xTicks23, p2x,
  [p2CP, p2NT, p2CA], [p2CPhi, p2NThi, p2CAhi], [p2CPlo, p2NTlo, p2CAlo], [p2ptsCP, p2ptsNT, p2ptsCA]);
makePanel('c3', -2.46, 2.90, -2.99, 3.11, xTicks23, p3x,
  [p3CP, p3NT, p3CA], [p3CPhi, p3NThi, p3CAhi], [p3CPlo, p3NTlo, p3CAlo], [p3ptsCP, p3ptsNT, p3ptsCA]);
</script>
</body>
</html>
